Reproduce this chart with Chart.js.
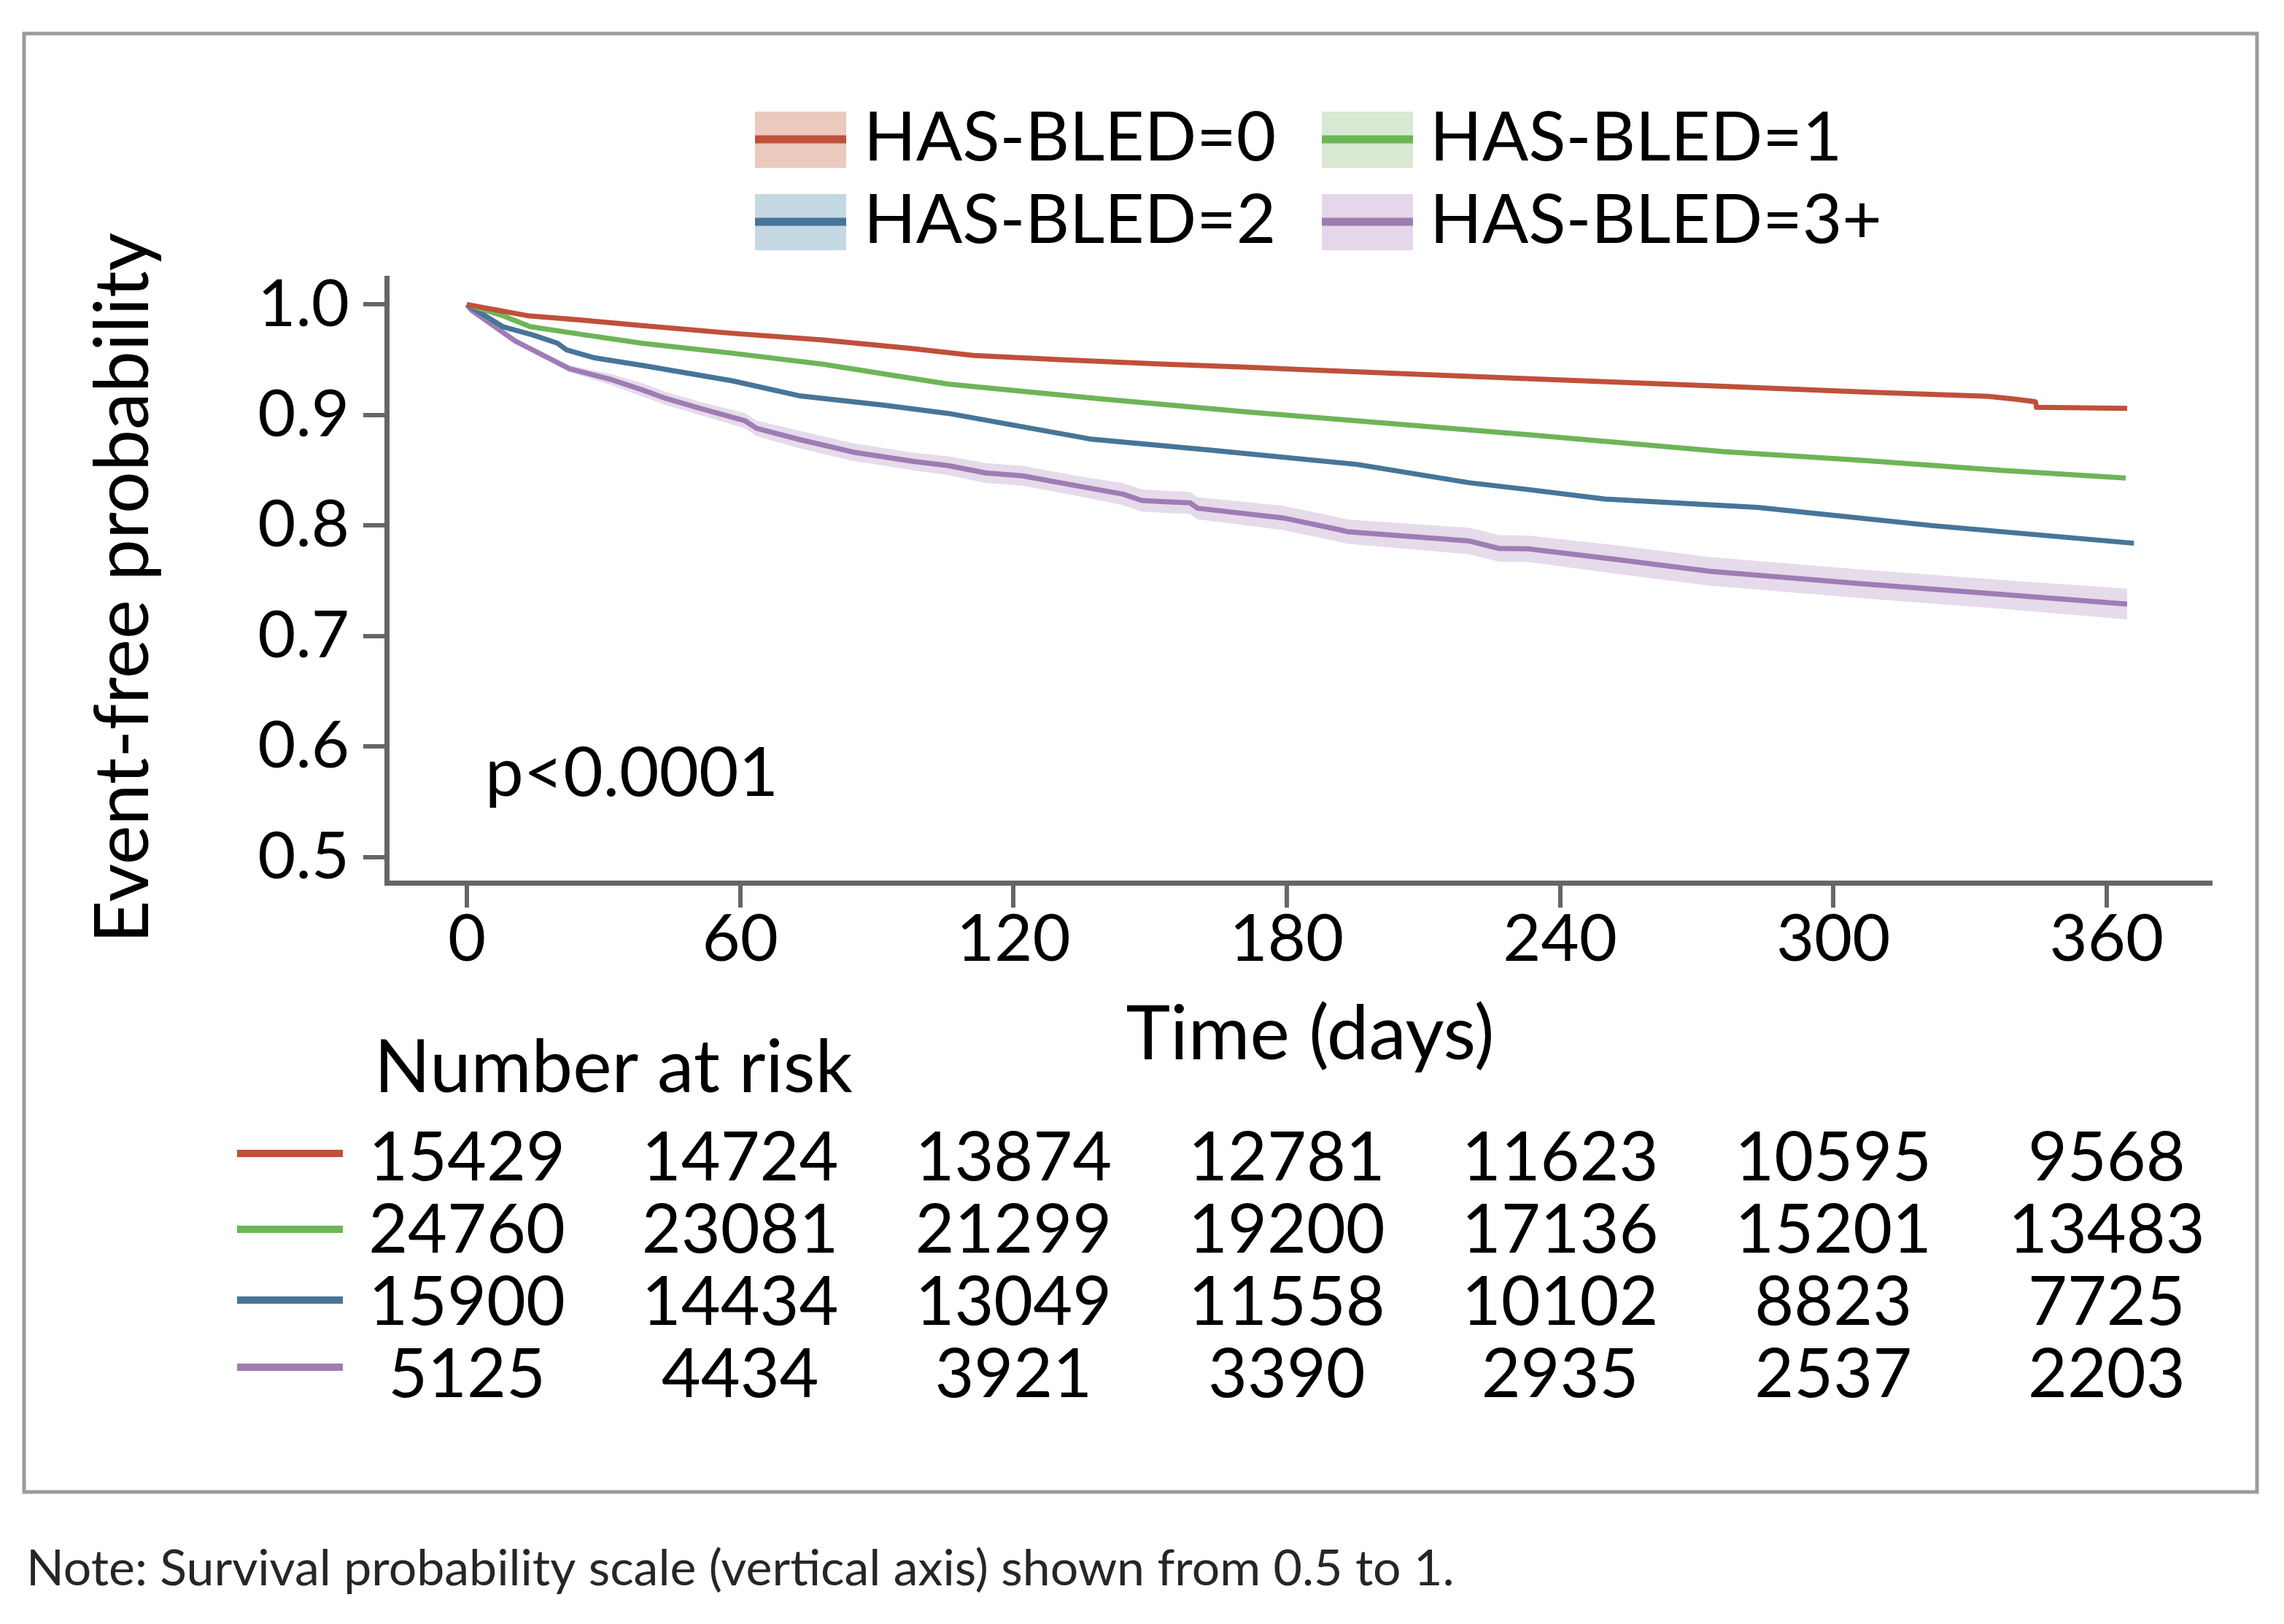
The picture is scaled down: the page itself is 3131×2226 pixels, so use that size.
<!DOCTYPE html>
<html><head><meta charset="utf-8">
<script src="https://cdn.jsdelivr.net/npm/chart.js@4.4.1/dist/chart.umd.min.js"></script>
<style>html,body{margin:0;padding:0;background:#fff;overflow:hidden}canvas{display:block}</style>
</head><body>
<canvas id="c" width="3131" height="2226" style="width:3131px;height:2226px"></canvas>
<script>
// ---------- data ----------
const SERIES_NAMES = ['HAS-BLED=0', 'HAS-BLED=1', 'HAS-BLED=2', 'HAS-BLED=3+'];
const X_TICKS = [0, 60, 120, 180, 240, 300, 360];
const Y_TICKS = [0.5, 0.6, 0.7, 0.8, 0.9, 1.0];

const RED_DAYS = [0, 13.3, 25.2, 38.4, 58.3, 78.2, 98.1, 111.3, 131.2, 153.5, 171, 184, 214.6, 233.8, 275.8, 306.4, 334, 340.8, 344.4, 344.6, 364.5];
const RED_SURV = [1.000, 0.990, 0.986, 0.981, 0.974, 0.968, 0.960, 0.954, 0.950, 0.946, 0.9433, 0.941, 0.936, 0.9328, 0.926, 0.921, 0.917, 0.914, 0.912, 0.907, 0.906];

const GREEN_DAYS = [0, 7.9, 13.9, 25.2, 38.4, 58.3, 78.2, 105.7, 138.4, 171, 203.7, 233.8, 275.8, 306.4, 337, 364.2];
const GREEN_SURV = [1.000, 0.990, 0.980, 0.973, 0.965, 0.956, 0.946, 0.928, 0.915, 0.903, 0.892, 0.882, 0.867, 0.859, 0.850, 0.843];

const BLUE_DAYS = [0, 7.9, 14.5, 19.9, 21.9, 27.8, 38.4, 58.3, 72.9, 91.4, 105.7, 136.8, 162.9, 195.5, 220, 233.8, 249.8, 283.4, 321.6, 366];
const BLUE_SURV = [1.000, 0.980, 0.9725, 0.965, 0.959, 0.952, 0.945, 0.931, 0.9175, 0.909, 0.9015, 0.8784, 0.8685, 0.8553, 0.8388, 0.8322, 0.824, 0.8165, 0.800, 0.784];

const PURPLE_DAYS = [0, 1, 10.6, 22.5, 31.8, 38.4, 43.7, 51.7, 61, 63.6, 72.9, 84.8, 98.1, 105.7, 113.9, 122, 133.9, 144.1, 148.2, 153.5, 158.8, 160.4, 179.2, 191.5, 193.2, 220.1, 226.6, 233, 252.9, 272.8, 306.4, 337, 364.5];
const PURPLE_SURV = [1.000, 0.995, 0.967, 0.942, 0.932, 0.923, 0.915, 0.9055, 0.895, 0.888, 0.878, 0.8665, 0.858, 0.8542, 0.8476, 0.845, 0.836, 0.8284, 0.8227, 0.8215, 0.8205, 0.8157, 0.8069, 0.7963, 0.7945, 0.786, 0.7793, 0.779, 0.769, 0.7586, 0.7472, 0.7377, 0.729];
const PURPLE_LOWER = [1.000, 0.994, 0.965, 0.939, 0.927, 0.917, 0.909, 0.8995, 0.888, 0.881, 0.870, 0.8585, 0.850, 0.8457, 0.8386, 0.836, 0.827, 0.8184, 0.8127, 0.8115, 0.8105, 0.8057, 0.7959, 0.7853, 0.7835, 0.774, 0.7673, 0.767, 0.756, 0.7456, 0.7342, 0.7247, 0.715];
const PURPLE_UPPER = [1.000, 0.996, 0.969, 0.945, 0.937, 0.929, 0.921, 0.9115, 0.902, 0.895, 0.886, 0.8745, 0.866, 0.8627, 0.8566, 0.854, 0.845, 0.8384, 0.8327, 0.8315, 0.8305, 0.8257, 0.8179, 0.8073, 0.8055, 0.798, 0.7913, 0.791, 0.782, 0.7716, 0.7602, 0.7507, 0.743];

const RISK_0 = [15429, 14724, 13874, 12781, 11623, 10595, 9568];
const RISK_1 = [24760, 23081, 21299, 19200, 17136, 15201, 13483];
const RISK_2 = [15900, 14434, 13049, 11558, 10102, 8823, 7725];
const RISK_3 = [5125, 4434, 3921, 3390, 2935, 2537, 2203];

// ---------- styles ----------
const FONT = "Lato, 'Noto Sans', sans-serif";
const AXIS = '#666666';
const LINE_COLORS = ['#C0503A', '#6DB557', '#477598', '#9F7CB4'];
const SWATCH_FILLS = ['#EBC9BC', '#D9E8D3', '#C3D8E3', '#E4D7E9'];
const BAND = 'rgba(160,125,181,0.28)';

const pts = (xs, ys) => xs.map((x, i) => ({x: x, y: ys[i]}));

function lineDs(label, xs, ys, color) {
  return {label, data: pts(xs, ys), borderColor: color, borderWidth: 7, pointRadius: 0,
          fill: false, tension: 0, borderJoinStyle: 'round', borderCapStyle: 'butt'};
}

const datasets = [
  lineDs(SERIES_NAMES[0], RED_DAYS, RED_SURV, LINE_COLORS[0]),
  lineDs(SERIES_NAMES[1], GREEN_DAYS, GREEN_SURV, LINE_COLORS[1]),
  lineDs(SERIES_NAMES[2], BLUE_DAYS, BLUE_SURV, LINE_COLORS[2]),
  lineDs(SERIES_NAMES[3], PURPLE_DAYS, PURPLE_SURV, LINE_COLORS[3]),
  {label: 'ci_low', data: pts(PURPLE_DAYS, PURPLE_LOWER), borderWidth: 0, pointRadius: 0, fill: false, borderColor: 'rgba(0,0,0,0)'},
  {label: 'ci_up', data: pts(PURPLE_DAYS, PURPLE_UPPER), borderWidth: 0, pointRadius: 0, fill: '-1', backgroundColor: BAND, borderColor: 'rgba(0,0,0,0)'}
];

const decor = {
  id: 'decor',
  beforeDraw(chart) {
    const c = chart.ctx;
    c.save(); c.fillStyle = '#fff'; c.fillRect(0, 0, chart.width, chart.height); c.restore();
  },
  afterDraw(chart) {
    const c = chart.ctx;
    const xs = chart.scales.x;
    c.save();
    // outer frame
    c.strokeStyle = '#9c9c9c'; c.lineWidth = 5;
    c.strokeRect(33, 46, 3094 - 33, 2045 - 46);

    // legend
    const legX = [1035, 1812];
    const legTextX = [1184, 1960];
    const legY = [191, 304];
    c.font = '94px ' + FONT; c.fillStyle = '#000'; c.textAlign = 'left'; c.textBaseline = 'alphabetic';
    for (let i = 0; i < 4; i++) {
      const col = i % 2, row = Math.floor(i / 2);
      const x0 = legX[col], yc = legY[row];
      c.fillStyle = SWATCH_FILLS[i];
      c.fillRect(x0, yc - 38, 125, 77);
      c.fillStyle = LINE_COLORS[i];
      c.fillRect(x0, yc - 5.5, 125, 11);
      c.fillStyle = '#000';
      c.fillText(SERIES_NAMES[i], legTextX[col], yc + 29);
    }

    // p-value
    c.font = '94px ' + FONT;
    c.fillText('p<0.0001', 665, 1091);

    // axis titles
    c.font = '103px ' + FONT; c.textAlign = 'center';
    c.fillText('Time (days)', 1796, 1452);
    c.save();
    c.translate(203, 806); c.rotate(-Math.PI / 2);
    c.font = '102px ' + FONT;
    c.fillText('Event-free probability', 0, 0);
    c.restore();

    // number at risk
    c.textAlign = 'left'; c.font = '101px ' + FONT;
    c.fillText('Number at risk', 513, 1497);
    const rows = [RISK_0, RISK_1, RISK_2, RISK_3];
    const baseY = [1618, 1717, 1816, 1915];
    const lineY = [1581, 1685, 1782, 1874];
    c.font = '93px ' + FONT; c.textAlign = 'center';
    rows.forEach((r, i) => {
      c.fillStyle = LINE_COLORS[i];
      c.fillRect(325, lineY[i] - 5, 145, 10);
      c.fillStyle = '#000';
      r.forEach((v, j) => c.fillText(String(v), xs.getPixelForValue(X_TICKS[j]), baseY[i]));
    });

    // note
    c.textAlign = 'left'; c.fillStyle = '#262626'; c.font = '68px ' + FONT;
    c.fillText('Note: Survival probability scale (vertical axis) shown from 0.5 to 1.', 36, 2173);
    c.restore();
  }
};

new Chart(document.getElementById('c'), {
  type: 'line',
  data: {datasets},
  plugins: [decor],
  options: {
    responsive: false, devicePixelRatio: 1, animation: false,
    layout: {padding: {left: 0, top: 381, right: 101, bottom: 816}},
    plugins: {legend: {display: false}, tooltip: {enabled: false}, title: {display: false}},
    scales: {
      x: {
        type: 'linear', min: -17.62, max: 382.77,
        afterBuildTicks: s => { s.ticks = X_TICKS.map(v => ({value: v})); },
        afterFit: s => { s.height = 200; },
        grid: {drawOnChartArea: false, drawTicks: true, tickLength: 34, lineWidth: 6, color: AXIS},
        border: {display: true, color: AXIS, width: 7},
        ticks: {font: {family: FONT, size: 90}, color: '#000', padding: -10, maxRotation: 0, autoSkip: false,
                callback: v => String(v)}
      },
      y: {
        type: 'linear', min: 0.4767, max: 1.0241,
        afterBuildTicks: s => { s.ticks = Y_TICKS.map(v => ({value: v})); },
        afterFit: s => { s.width = 530; },
        grid: {drawOnChartArea: false, drawTicks: true, tickLength: 32, lineWidth: 6, color: AXIS},
        border: {display: true, color: AXIS, width: 7},
        ticks: {font: {family: FONT, size: 90}, color: '#000', padding: 19, autoSkip: false,
                callback: v => Number(v).toFixed(1)}
      }
    }
  }
});
</script></body></html>
